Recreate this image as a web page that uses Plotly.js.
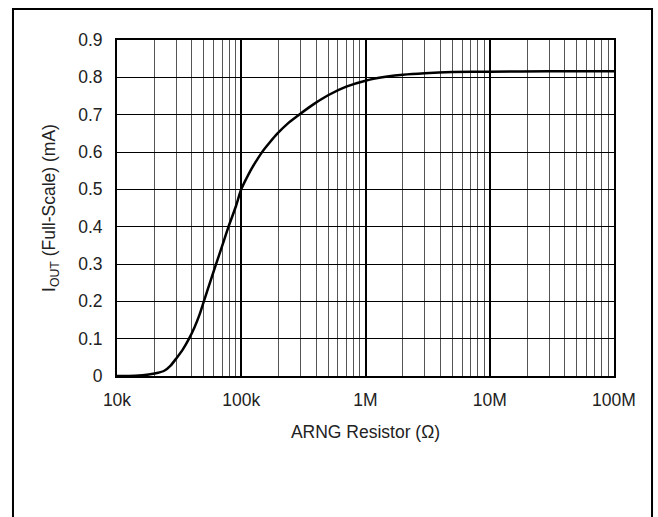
<!DOCTYPE html>
<html>
<head>
<meta charset="utf-8">
<script src="https://cdn.plot.ly/plotly-3.0.1.min.js"></script>
<style>html,body{margin:0;padding:0;background:#fff;}#chart{width:658px;height:517px;}</style>
</head>
<body>
<div id="chart"></div>
<script>
// ARNG resistor (ohm) vs full-scale output current (mA)
const resistance = [10000, 14000, 18000, 21000, 24000, 27000, 30000, 34000, 38000, 42000, 46000, 50000, 56000, 62000, 70000, 79000, 90000, 100000, 110000, 119000, 135000, 148000, 170000, 195000, 240000, 292000, 386000, 500000, 700000, 1000000, 1500000, 2000000, 3000000, 5000000, 10000000, 30000000, 100000000];
const ioutFS   = [0.0, 0.001, 0.004, 0.008, 0.014, 0.028, 0.047, 0.072, 0.1, 0.13, 0.163, 0.2, 0.25, 0.295, 0.347, 0.4, 0.452, 0.5, 0.529, 0.551, 0.581, 0.601, 0.626, 0.649, 0.678, 0.7, 0.729, 0.752, 0.775, 0.791, 0.802, 0.807, 0.811, 0.814, 0.815, 0.816, 0.816];

const xTickVals = [1e4, 1e5, 1e6, 1e7, 1e8];
const xTickText = ['10k', '100k', '1M', '10M', '100M'];
const yTickVals = [0, 0.1, 0.2, 0.3, 0.4, 0.5, 0.6, 0.7, 0.8, 0.9];
const yTickText = ['0', '0.1', '0.2', '0.3', '0.4', '0.5', '0.6', '0.7', '0.8', '0.9'];

const font = 'Liberation Sans, Arial, sans-serif';
const fs = 17.5;

const trace = {
  x: resistance, y: ioutFS, type: 'scatter', mode: 'lines',
  line: {color: '#000', width: 2.5, shape: 'spline', smoothing: 0.7},
  hoverinfo: 'skip'
};

const layout = {
  width: 658, height: 517,
  margin: {l: 117, r: 44, t: 40, b: 141},
  paper_bgcolor: '#fff', plot_bgcolor: '#fff',
  showlegend: false,
  font: {family: font, color: '#222', size: fs},
  xaxis: {
    type: 'log', range: [4, 8],
    tickmode: 'array', tickvals: xTickVals, ticktext: xTickText,
    showgrid: true, gridcolor: '#000', gridwidth: 2,
    minor: {dtick: 'D1', showgrid: true, gridcolor: '#555', gridwidth: 1, ticks: ''},
    showline: true, linecolor: '#000', linewidth: 2, mirror: true,
    ticks: '', ticklabelstandoff: 7, zeroline: false,
    tickfont: {family: font, size: fs, color: '#222'},
    title: {text: 'ARNG Resistor (Ω)', font: {family: font, size: fs, color: '#222'}, standoff: 17}
  },
  yaxis: {
    range: [0, 0.9],
    tickmode: 'array', tickvals: yTickVals, ticktext: yTickText,
    showgrid: true, gridcolor: '#000', gridwidth: 1,
    showline: true, linecolor: '#000', linewidth: 2, mirror: true,
    ticks: '', ticklabelstandoff: 9, zeroline: false,
    tickfont: {family: font, size: fs, color: '#222'},
    title: {text: 'I<sub>OUT</sub> (Full-Scale) (mA)', font: {family: font, size: fs, color: '#222'}, standoff: 18}
  },
  shapes: [{
    type: 'rect', xref: 'paper', yref: 'paper',
    x0: -0.2093, x1: 1.0765, y0: -0.45, y1: 1.0923,
    line: {color: '#000', width: 2}, fillcolor: 'rgba(0,0,0,0)', layer: 'below'
  }]
};

Plotly.newPlot('chart', [trace], layout, {displayModeBar: false, staticPlot: true});
</script>
</body>
</html>
